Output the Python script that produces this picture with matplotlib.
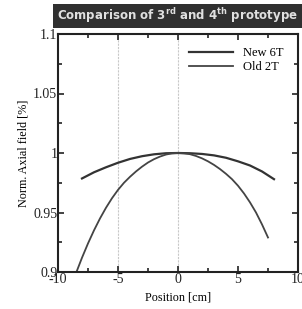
import matplotlib
matplotlib.use("Agg")
import matplotlib.pyplot as plt
from matplotlib.patches import Rectangle
from matplotlib.ticker import MultipleLocator

# Data
x_new = [-8, -7, -6, -5, -4, -3, -2, -1, 0, 1, 2, 3, 4, 5, 6, 7, 8]
y_new = [0.9786, 0.9838, 0.988, 0.9918, 0.995, 0.9973, 0.9989, 0.9998, 1.0,
         0.9998, 0.9992, 0.998, 0.996, 0.993, 0.9895, 0.9845, 0.978]
x_old = [-8.5, -8, -7.5, -7, -6.5, -6, -5.5, -5, -4.5, -4, -3.5, -3, -2.5, -2,
         -1.5, -1, -0.5, 0, 0.5, 1, 1.5, 2, 2.5, 3, 3.5, 4, 4.5, 5, 5.5, 6,
         6.5, 7, 7.5]
y_old = [0.899, 0.912, 0.924, 0.935, 0.945, 0.954, 0.962, 0.969, 0.975, 0.980,
         0.9845, 0.9885, 0.992, 0.9948, 0.997, 0.9987, 0.9997, 1.0, 0.9997,
         0.999, 0.9975, 0.9955, 0.993, 0.990, 0.9865, 0.9825, 0.978, 0.9725,
         0.966, 0.9585, 0.950, 0.940, 0.929]
series_labels = ["New 6T", "Old 2T"]
x_ticks = [-10, -5, 0, 5, 10]
x_ticklabels = ["-10", "-5", "0", "5", "10"]
y_ticks = [0.9, 0.95, 1.0, 1.05, 1.1]
y_ticklabels = ["0.9", "0.95", "1", "1.05", "1.1"]
title = r"Comparison of 3$^{\mathregular{rd}}$ and 4$^{\mathregular{th}}$ prototype"

serif = "Liberation Serif"

fig = plt.figure(figsize=(3.02, 3.09), dpi=100)
W, H = 302, 309
ax = fig.add_axes([58 / W, 1 - 272 / H, 240 / W, 238 / H])

ax.axvline(-5, color="#c8c8c8", lw=0.8, ls=(0, (2, 1)), zorder=0)
ax.axvline(0, color="#c8c8c8", lw=0.8, ls=(0, (2, 1)), zorder=0)

ax.plot(x_new, y_new, color="#333333", lw=1.6, label=series_labels[0])
ax.plot(x_old, y_old, color="#444444", lw=1.3, label=series_labels[1])

ax.set_xlim(-10, 10)
ax.set_ylim(0.9, 1.1)
ax.set_xticks(x_ticks, x_ticklabels, fontfamily=serif, fontsize=10)
ax.set_yticks(y_ticks, y_ticklabels, fontfamily=serif, fontsize=10)
ax.xaxis.set_minor_locator(MultipleLocator(2.5))
ax.yaxis.set_minor_locator(MultipleLocator(0.025))
ax.tick_params(which="both", direction="in", top=True, right=True, width=1.2,
               colors="#222222")
ax.tick_params(which="major", length=4, pad=0.5)
ax.tick_params(which="minor", length=3)
for s in ax.spines.values():
    s.set_linewidth(1.5)
    s.set_color("#222222")

ax.set_xlabel("Position [cm]", fontfamily=serif, fontsize=8.7, labelpad=4)
ax.set_ylabel("Norm. Axial field [%]", fontfamily=serif, fontsize=8.7, labelpad=3)

leg = ax.legend(loc="upper right", frameon=False, prop={"family": serif, "size": 9},
                handlelength=3.5, handletextpad=0.8, borderaxespad=0.0,
                labelspacing=0.15, bbox_to_anchor=(0.96, 0.965))

# Title box
fig.patches.append(Rectangle((53 / W, 1 - 28 / H), 1 - 53 / W, 24 / H,
                             transform=fig.transFigure, facecolor="#303030",
                             edgecolor="none"))
fig.text(177 / W, 1 - 16 / H, title, ha="center", va="center", color="#e0e0e0",
         fontsize=8.5, fontweight="bold", fontfamily="DejaVu Sans")

fig.savefig("out.png", dpi=100)
